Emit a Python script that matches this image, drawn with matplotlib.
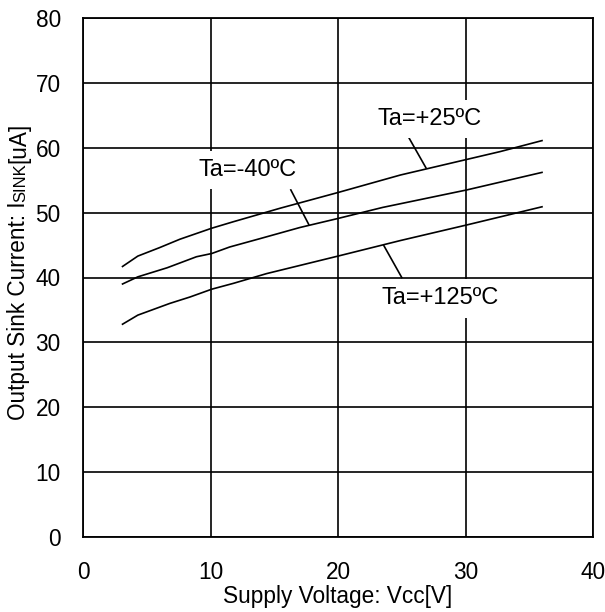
import matplotlib
matplotlib.use("Agg")
import matplotlib.pyplot as plt

plt.rcParams['font.family'] = ['Liberation Sans', 'DejaVu Sans']

vcc_25 = [3.1, 4.3, 6.0, 7.6, 10.1, 11.8, 15.5, 20.0, 24.9, 30.1, 32.7, 36.0]
isink_25 = [41.7, 43.3, 44.6, 45.9, 47.6, 48.6, 50.7, 53.1, 55.8, 58.2, 59.4, 61.1]

vcc_m40 = [3.1, 4.3, 6.6, 8.9, 10.1, 11.5, 13.9, 17.0, 20.0, 23.5, 30.1, 36.0]
isink_m40 = [39.0, 40.1, 41.5, 43.2, 43.7, 44.7, 46.0, 47.7, 49.1, 50.8, 53.5, 56.2]

vcc_125 = [3.1, 4.3, 6.8, 8.4, 10.1, 11.8, 14.4, 20.0, 24.9, 30.1, 36.0]
isink_125 = [32.8, 34.2, 36.0, 37.0, 38.2, 39.1, 40.6, 43.3, 45.7, 48.1, 50.9]

labels = ["Ta=+25ºC", "Ta=-40ºC", "Ta=+125ºC"]
label_pos = [(27.2, 64.4), (12.9, 56.6), (28.0, 36.8)]
leaders = [((25.4, 62.1), (26.9, 56.9)), ((16.3, 53.5), (17.7, 48.2)), ((23.6, 44.9), (25.0, 40.0))]

xticks = [0, 10, 20, 30, 40]
yticks = [0, 10, 20, 30, 40, 50, 60, 70, 80]

FS = 16.3

fig = plt.figure(figsize=(6.05, 6.12), dpi=100)
ax = fig.add_axes([83/605, 75/612, 510/605, 519/612])
ax.set_xlim(0, 40)
ax.set_ylim(0, 80)
ax.set_xticks(xticks)
ax.set_yticks(yticks)
ax.grid(True, color='black', linewidth=1.2)
ax.set_axisbelow(True)
for s in ax.spines.values():
    s.set_linewidth(1.3)
    s.set_color('black')
ax.tick_params(length=0, labelsize=FS)
ax.tick_params(axis='x', pad=17)
ax.tick_params(axis='y', pad=16)

for xs, ys in [(vcc_25, isink_25), (vcc_m40, isink_m40), (vcc_125, isink_125)]:
    ax.plot(xs, ys, color='black', linewidth=1.2, zorder=3)

for lab, (lx, ly), ((x0, y0), (x1, y1)) in zip(labels, label_pos, leaders):
    ax.plot([x0, x1], [y0, y1], color='black', linewidth=1.2, zorder=3)
    ax.text(lx, ly, lab, fontsize=17, ha='center', va='center', zorder=4,
            bbox=dict(facecolor='white', edgecolor='none', pad=6))

ax.set_xlabel("Supply Voltage: Vcc[V]", fontsize=FS, labelpad=1)

# y label composed of pieces (SINK in smaller font)
pieces = [("Output Sink Current: I", FS), ("SINK", 12), ("[uA]", FS)]
fig.canvas.draw()
r = fig.canvas.get_renderer()
texts = []
total = 0
for s, fs in pieces:
    t = fig.text(0, 0, s, fontsize=fs, rotation=90, rotation_mode='anchor',
                 ha='left', va='baseline', transform=None)
    ext = t.get_window_extent(renderer=r)
    texts.append((t, ext.height))
    total += ext.height
ycenter_px = 612 - 271.5
y = ycenter_px - total / 2
xbase = 25
for t, h in texts:
    t.set_position((xbase, y))
    y += h

fig.savefig("out.png", dpi=100)
